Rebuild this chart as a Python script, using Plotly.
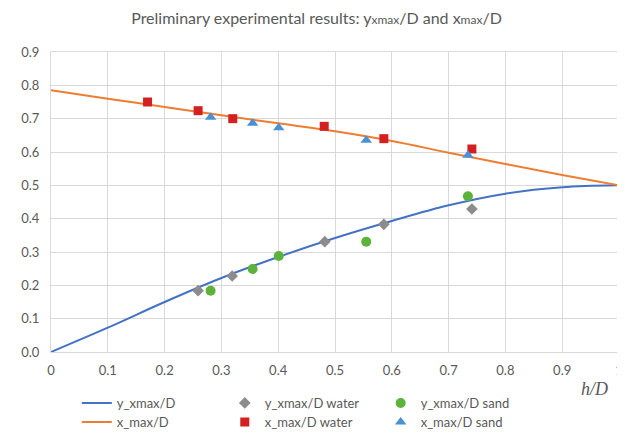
import plotly.graph_objects as go

# Smooth model curves
h_curve = [0.0, 0.1, 0.2, 0.3, 0.4, 0.5, 0.6, 0.7, 0.8, 0.9, 1.0]
y_xmax_curve = [0.0, 0.073, 0.150, 0.222, 0.285, 0.342, 0.393, 0.440, 0.475, 0.494, 0.500]
x_max_curve = [0.785, 0.760, 0.735, 0.710, 0.686, 0.662, 0.633, 0.598, 0.564, 0.531, 0.500]

# Experimental points
h_water = [0.17, 0.259, 0.320, 0.481, 0.586, 0.741]
x_max_water = [0.750, 0.724, 0.700, 0.677, 0.640, 0.609]
h_water_y = [0.259, 0.319, 0.482, 0.586, 0.741]
y_xmax_water = [0.184, 0.228, 0.331, 0.383, 0.429]

h_sand = [0.281, 0.355, 0.401, 0.555, 0.734]
x_max_sand = [0.704, 0.686, 0.673, 0.635, 0.590]
y_xmax_sand = [0.184, 0.249, 0.288, 0.331, 0.467]

x_ticks = [0, 0.1, 0.2, 0.3, 0.4, 0.5, 0.6, 0.7, 0.8, 0.9, 1]
x_tick_labels = ["0", "0.1", "0.2", "0.3", "0.4", "0.5", "0.6", "0.7", "0.8", "0.9", "1"]
y_ticks = [0, 0.1, 0.2, 0.3, 0.4, 0.5, 0.6, 0.7, 0.8, 0.9]
y_tick_labels = ["0.0", "0.1", "0.2", "0.3", "0.4", "0.5", "0.6", "0.7", "0.8", "0.9"]

FONT = "Lato"
TXT = "#595959"
GRID = "#d9d9d9"

# page has an 8px body margin: figure is drawn from screen (8, 8)
W, H = 617, 425
ML, MR, MT, MB = 43, 2, 44, 81
PW = W - ML - MR
PH = H - MT - MB


def px_x(sx):
    return (sx - 8 - ML) / PW


def cont_y(sy):
    return 1 - (sy - 8) / H


fig = go.Figure()
fig.add_trace(go.Scatter(x=h_curve, y=y_xmax_curve, mode="lines", name="y_xmax/D",
                         line=dict(color="#4472c4", width=2, shape="spline"), legend="legend"))
fig.add_trace(go.Scatter(x=h_water_y, y=y_xmax_water, mode="markers", name="y_xmax/D water",
                         marker=dict(symbol="diamond", color="#8c8c8c", size=9), legend="legend2"))
fig.add_trace(go.Scatter(x=h_sand, y=y_xmax_sand, mode="markers", name="y_xmax/D sand",
                         marker=dict(symbol="circle", color="#5cb23a", size=10), legend="legend3"))
fig.add_trace(go.Scatter(x=h_curve, y=x_max_curve, mode="lines", name="x_max/D",
                         line=dict(color="#ed7d31", width=2, shape="spline"), legend="legend4"))
fig.add_trace(go.Scatter(x=h_water, y=x_max_water, mode="markers", name="x_max/D water",
                         marker=dict(symbol="square", color="#d42020", size=9), legend="legend5"))
fig.add_trace(go.Scatter(x=h_sand, y=x_max_sand, mode="markers", name="x_max/D sand",
                         marker=dict(symbol="triangle-up", color="#4a90d4", size=10), legend="legend6"))
fig.update_traces(showlegend=True)

legend_common = dict(orientation="h", xref="paper", yref="container", xanchor="left", yanchor="middle",
                     font=dict(family=FONT, size=13, color=TXT),
                     bgcolor="rgba(0,0,0,0)", itemwidth=30)

col_x = [77, 226, 383]
row_y = [403, 422]
legends = {}
names = ["legend", "legend2", "legend3", "legend4", "legend5", "legend6"]
for i, nm in enumerate(names):
    r, c = divmod(i, 3)
    legends[nm] = dict(x=px_x(col_x[c]), y=cont_y(row_y[r]), **legend_common)

fig.update_layout(
    width=W, height=H,
    showlegend=True,
    margin=dict(l=ML, r=MR, t=MT, b=MB),
    paper_bgcolor="white", plot_bgcolor="white",
    font=dict(family=FONT, color=TXT),
    title=dict(text="Preliminary experimental results: y<span style='font-size:12px'>xmax</span>/D and x<span style='font-size:12px'>max</span>/D",
               x=0.5, xanchor="center", y=cont_y(18), yanchor="middle",
               font=dict(family=FONT, size=16, color=TXT)),
    xaxis=dict(range=[0, 1], tickvals=x_ticks, ticktext=x_tick_labels, showgrid=True, gridcolor=GRID,
               gridwidth=1, zeroline=False, showline=True, linecolor=GRID, mirror=True, ticks="",
               tickfont=dict(family=FONT, size=13, color=TXT), ticklabelstandoff=6,
               ticklabeloverflow="allow"),
    yaxis=dict(range=[0, 0.9], tickvals=y_ticks, ticktext=y_tick_labels, showgrid=True, gridcolor=GRID,
               gridwidth=1, zeroline=False, showline=True, linecolor=GRID, mirror=True, ticks="",
               tickfont=dict(family=FONT, size=13, color=TXT), ticklabelstandoff=8),
    annotations=[dict(text="<i>h/D</i>", x=px_x(598), y=-(381 - 344) / PH, xref="paper", yref="paper",
                      showarrow=False, xanchor="center", yanchor="middle",
                      font=dict(family="Liberation Serif", size=18, color=TXT))],
    **legends,
)

fig.write_html("out.html")
